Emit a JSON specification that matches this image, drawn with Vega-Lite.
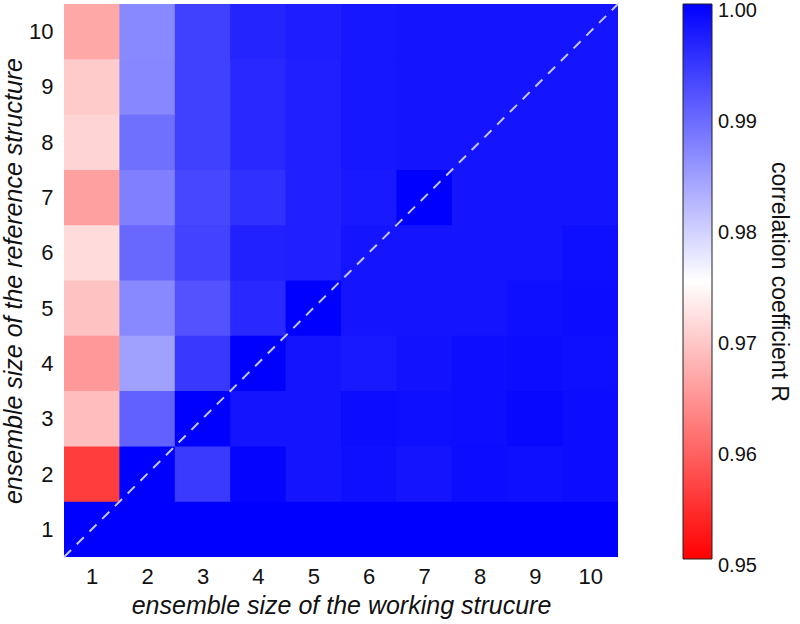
{
  "$schema": "https://vega.github.io/schema/vega-lite/v6.json",
  "autosize": "none",
  "width": 554,
  "height": 553,
  "padding": {"left": 64, "top": 4, "right": 182, "bottom": 67},
  "background": "white",
  "config": {
    "view": {"stroke": null},
    "font": "Liberation Sans",
    "axis": {"labelFont": "Liberation Sans", "titleFont": "Liberation Sans"},
    "legend": {"labelFont": "Liberation Sans", "titleFont": "Liberation Sans"}
  },
  "layer": [
    {
      "data": {
        "values": [
          {"w": 1, "r": 1, "R": 1.0}, {"w": 2, "r": 1, "R": 1.0}, {"w": 3, "r": 1, "R": 1.0}, {"w": 4, "r": 1, "R": 1.0}, {"w": 5, "r": 1, "R": 1.0},
          {"w": 6, "r": 1, "R": 1.0}, {"w": 7, "r": 1, "R": 1.0}, {"w": 8, "r": 1, "R": 1.0}, {"w": 9, "r": 1, "R": 1.0}, {"w": 10, "r": 1, "R": 1.0},
          {"w": 1, "r": 2, "R": 0.956}, {"w": 2, "r": 2, "R": 1.0}, {"w": 3, "r": 2, "R": 0.9943}, {"w": 4, "r": 2, "R": 0.9995}, {"w": 5, "r": 2, "R": 0.998},
          {"w": 6, "r": 2, "R": 0.9985}, {"w": 7, "r": 2, "R": 0.998}, {"w": 8, "r": 2, "R": 0.9988}, {"w": 9, "r": 2, "R": 0.9985}, {"w": 10, "r": 2, "R": 0.9988},
          {"w": 1, "r": 3, "R": 0.9685}, {"w": 2, "r": 3, "R": 0.9905}, {"w": 3, "r": 3, "R": 1.0}, {"w": 4, "r": 3, "R": 0.998}, {"w": 5, "r": 3, "R": 0.998},
          {"w": 6, "r": 3, "R": 0.9988}, {"w": 7, "r": 3, "R": 0.9985}, {"w": 8, "r": 3, "R": 0.9987}, {"w": 9, "r": 3, "R": 0.9992}, {"w": 10, "r": 3, "R": 0.9988},
          {"w": 1, "r": 4, "R": 0.965}, {"w": 2, "r": 4, "R": 0.9843}, {"w": 3, "r": 4, "R": 0.9945}, {"w": 4, "r": 4, "R": 1.0}, {"w": 5, "r": 4, "R": 0.998},
          {"w": 6, "r": 4, "R": 0.9975}, {"w": 7, "r": 4, "R": 0.9982}, {"w": 8, "r": 4, "R": 0.9987}, {"w": 9, "r": 4, "R": 0.9988}, {"w": 10, "r": 4, "R": 0.9985},
          {"w": 1, "r": 5, "R": 0.969}, {"w": 2, "r": 5, "R": 0.9867}, {"w": 3, "r": 5, "R": 0.992}, {"w": 4, "r": 5, "R": 0.996}, {"w": 5, "r": 5, "R": 1.0},
          {"w": 6, "r": 5, "R": 0.998}, {"w": 7, "r": 5, "R": 0.998}, {"w": 8, "r": 5, "R": 0.998}, {"w": 9, "r": 5, "R": 0.9985}, {"w": 10, "r": 5, "R": 0.9988},
          {"w": 1, "r": 6, "R": 0.9715}, {"w": 2, "r": 6, "R": 0.9898}, {"w": 3, "r": 6, "R": 0.9935}, {"w": 4, "r": 6, "R": 0.9968}, {"w": 5, "r": 6, "R": 0.997},
          {"w": 6, "r": 6, "R": 0.998}, {"w": 7, "r": 6, "R": 0.998}, {"w": 8, "r": 6, "R": 0.998}, {"w": 9, "r": 6, "R": 0.998}, {"w": 10, "r": 6, "R": 0.9985},
          {"w": 1, "r": 7, "R": 0.9657}, {"w": 2, "r": 7, "R": 0.9875}, {"w": 3, "r": 7, "R": 0.993}, {"w": 4, "r": 7, "R": 0.9953}, {"w": 5, "r": 7, "R": 0.997},
          {"w": 6, "r": 7, "R": 0.9975}, {"w": 7, "r": 7, "R": 1.0}, {"w": 8, "r": 7, "R": 0.998}, {"w": 9, "r": 7, "R": 0.998}, {"w": 10, "r": 7, "R": 0.998},
          {"w": 1, "r": 8, "R": 0.9708}, {"w": 2, "r": 8, "R": 0.989}, {"w": 3, "r": 8, "R": 0.9937}, {"w": 4, "r": 8, "R": 0.996}, {"w": 5, "r": 8, "R": 0.997},
          {"w": 6, "r": 8, "R": 0.9978}, {"w": 7, "r": 8, "R": 0.998}, {"w": 8, "r": 8, "R": 0.998}, {"w": 9, "r": 8, "R": 0.998}, {"w": 10, "r": 8, "R": 0.998},
          {"w": 1, "r": 9, "R": 0.9698}, {"w": 2, "r": 9, "R": 0.9868}, {"w": 3, "r": 9, "R": 0.9937}, {"w": 4, "r": 9, "R": 0.996}, {"w": 5, "r": 9, "R": 0.997},
          {"w": 6, "r": 9, "R": 0.9978}, {"w": 7, "r": 9, "R": 0.998}, {"w": 8, "r": 9, "R": 0.998}, {"w": 9, "r": 9, "R": 0.998}, {"w": 10, "r": 9, "R": 0.998},
          {"w": 1, "r": 10, "R": 0.9665}, {"w": 2, "r": 10, "R": 0.9867}, {"w": 3, "r": 10, "R": 0.9937}, {"w": 4, "r": 10, "R": 0.9965}, {"w": 5, "r": 10, "R": 0.9972},
          {"w": 6, "r": 10, "R": 0.9978}, {"w": 7, "r": 10, "R": 0.998}, {"w": 8, "r": 10, "R": 0.998}, {"w": 9, "r": 10, "R": 0.998}, {"w": 10, "r": 10, "R": 0.998}
        ]
      },
      "transform": [
        {"calculate": "datum.w - 0.5", "as": "w0"},
        {"calculate": "min(datum.w + 0.52, 10.5)", "as": "w1"},
        {"calculate": "datum.r - 0.5", "as": "r0"},
        {"calculate": "min(datum.r + 0.52, 10.5)", "as": "r1"}
      ],
      "mark": {"type": "rect", "stroke": null},
      "encoding": {
        "x": {
          "field": "w0", "type": "quantitative",
          "scale": {"domain": [0.5, 10.5], "nice": false, "zero": false},
          "axis": {
            "title": "ensemble size of the working strucure",
            "values": [1, 2, 3, 4, 5, 6, 7, 8, 9, 10],
            "ticks": false, "tickSize": 0, "domain": false, "grid": false,
            "labelFontSize": 22, "labelColor": "#111", "labelPadding": 9,
            "titleFontSize": 25, "titleFontStyle": "italic", "titleFontWeight": "normal", "titleColor": "#111", "titlePadding": 6
          }
        },
        "x2": {"field": "w1"},
        "y": {
          "field": "r0", "type": "quantitative",
          "scale": {"domain": [0.5, 10.5], "nice": false, "zero": false},
          "axis": {
            "title": "ensemble size of the reference structure",
            "values": [1, 2, 3, 4, 5, 6, 7, 8, 9, 10],
            "ticks": false, "tickSize": 0, "domain": false, "grid": false,
            "labelFontSize": 22, "labelColor": "#111", "labelPadding": 11,
            "titleFontSize": 25, "titleFontStyle": "italic", "titleFontWeight": "normal", "titleColor": "#111", "titlePadding": 2
          }
        },
        "y2": {"field": "r1"},
        "color": {
          "field": "R", "type": "quantitative",
          "scale": {"domain": [0.95, 0.975, 1.0], "range": ["#ff0000", "#ffffff", "#0000ff"], "interpolate": "rgb", "clamp": true},
          "legend": {
            "type": "gradient",
            "title": "correlation coefficient R",
            "orient": "right",
            "offset": 65,
            "padding": 0,
            "gradientLength": 555,
            "gradientThickness": 29,
            "gradientStrokeColor": "#222",
            "gradientStrokeWidth": 1,
            "values": [0.95, 0.96, 0.97, 0.98, 0.99, 1.0],
            "format": ".2f",
            "labelFontSize": 20,
            "labelColor": "#111",
            "labelOffset": 6,
            "labelOverlap": false,
            "titleOrient": "right",
            "titleFontSize": 23,
            "titleFontWeight": "normal",
            "titleColor": "#111",
            "titleAnchor": "middle",
            "titleLimit": 800,
            "titlePadding": 10,
            "encode": {
              "title": {"update": {"angle": {"value": 90}, "align": {"value": "center"}, "baseline": {"value": "bottom"}}},
              "labels": {"update": {"baseline": {"value": "middle"}, "dy": {"value": 7}}}
            }
          }
        }
      }
    },
    {
      "data": {"values": [{"start": 0.5, "end": 10.5}]},
      "mark": {"type": "rule", "color": "#c4c4e8", "strokeWidth": 2, "strokeDash": [10, 8]},
      "encoding": {
        "x": {"field": "start", "type": "quantitative"},
        "y": {"field": "start", "type": "quantitative"},
        "x2": {"field": "end"},
        "y2": {"field": "end"}
      }
    }
  ]
}
